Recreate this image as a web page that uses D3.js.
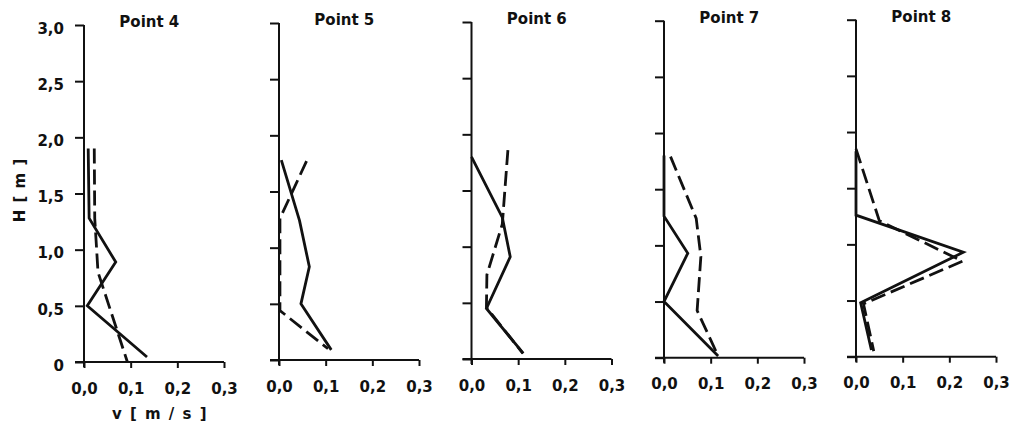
<!DOCTYPE html>
<html>
<head>
<style>
body { margin: 0; background: #fff; }
svg text { font-family: "DejaVu Sans", sans-serif; font-weight: bold; fill: #111; }
</style>
<script src="https://cdn.jsdelivr.net/npm/d3@7"></script>
</head>
<body>
<svg id="chart" width="1013" height="428"></svg>
<script>
// data: [v in m/s, H in m]
var panelNames = ["Point 4", "Point 5", "Point 6", "Point 7", "Point 8"];
var solidSeries = [
	[[0.009,1.9],[0.011,1.28],[0.068,0.89],[0.007,0.50],[0.135,0.045]],
	[[0.005,1.78],[0.044,1.24],[0.065,0.83],[0.047,0.50],[0.112,0.09]],
	[[0.0,1.80],[0.066,1.26],[0.083,0.91],[0.032,0.45],[0.111,0.05]],
	[[0.0,1.80],[0.0,1.26],[0.051,0.93],[0.0,0.50],[0.116,0.015]],
	[[0.0,1.83],[0.0,1.26],[0.23,0.93],[0.01,0.48],[0.033,0.06]]
];
var dashedSeries = [
	[[0.022,1.9],[0.023,1.28],[0.03,0.8],[0.093,0.0]],
	[[0.059,1.77],[0.002,1.26],[0.002,0.44],[0.105,0.10]],
	[[0.078,1.86],[0.066,1.2],[0.033,0.75],[0.032,0.46],[0.11,0.05]],
	[[0.014,1.79],[0.069,1.24],[0.079,0.90],[0.071,0.42],[0.116,0.015]],
	[[0.0,1.85],[0.05,1.21],[0.228,0.85],[0.016,0.47],[0.038,0.05]]
];
var xTicks = [0, 0.1, 0.2, 0.3];
var yTicks = [0, 0.5, 1.0, 1.5, 2.0, 2.5, 3.0];

// layout (scan is slightly tilted, so each panel gets its own origin)
var panelX = [84, 279, 471.5, 664, 856];
var panelY = [362, 360, 359, 357.7, 356.7];
var plotW = 140, plotH = 337;

var svg = d3.select("#chart");
var fmt = function(d) { return d === 0 ? "0" : d3.format(".1f")(d).replace(".", ","); };

panelNames.forEach(function(name, i) {
	var x = d3.scaleLinear().domain([0, 0.3]).range([0, plotW]);
	var y = d3.scaleLinear().domain([0, 3]).range([0, -plotH]);
	var g = svg.append("g").attr("transform", "translate(" + panelX[i] + "," + panelY[i] + ")");

	// y axis
	var yAxis = d3.axisLeft(y).tickValues(yTicks).tickSize(9).tickPadding(11)
		.tickFormat(i === 0 ? fmt : "");
	var ya = g.append("g").call(yAxis);
	ya.select(".domain").remove();
	ya.selectAll("line").attr("stroke", "#111").attr("stroke-width", 2);
	ya.selectAll("text").attr("font-size", 15).attr("dy", "0.55em").style("font-family", null);
	g.append("line").attr("x1", 0).attr("x2", 0).attr("y1", y(3)).attr("y2", 5)
		.attr("stroke", "#111").attr("stroke-width", 2);

	// x axis
	var xAxis = d3.axisBottom(x).tickValues(xTicks).tickSize(6).tickPadding(15)
		.tickFormat(function(d) { return d3.format(".1f")(d).replace(".", ","); });
	var xa = g.append("g").call(xAxis);
	xa.select(".domain").remove();
	xa.selectAll("line").attr("stroke", "#111").attr("stroke-width", 2);
	xa.selectAll("text").attr("font-size", 15).style("font-family", null);
	g.append("line").attr("x1", -9).attr("x2", x(0.3)).attr("y1", 0).attr("y2", 0)
		.attr("stroke", "#111").attr("stroke-width", 2);

	var line = d3.line().x(function(d) { return x(d[0]); }).y(function(d) { return y(d[1]); });
	g.append("path").datum(solidSeries[i]).attr("d", line)
		.attr("fill", "none").attr("stroke", "#111").attr("stroke-width", 2.8)
		.attr("stroke-linejoin", "miter");
	g.append("path").datum(dashedSeries[i]).attr("d", line)
		.attr("fill", "none").attr("stroke", "#111").attr("stroke-width", 2.8)
		.attr("stroke-dasharray", "15,6");

	g.append("text").attr("x", x(0.14)).attr("y", y(3) + 2)
		.attr("text-anchor", "middle").attr("font-size", 15).text(name);
});

// axis titles
svg.append("text").attr("x", 160).attr("y", 419).attr("text-anchor", "middle")
	.attr("font-size", 15).attr("letter-spacing", 1.5).text("v [ m / s ]");
svg.append("text").attr("transform", "translate(25,190) rotate(-90)")
	.attr("text-anchor", "middle").attr("font-size", 15).attr("letter-spacing", 1).text("H [ m ]");
</script>
</body>
</html>
